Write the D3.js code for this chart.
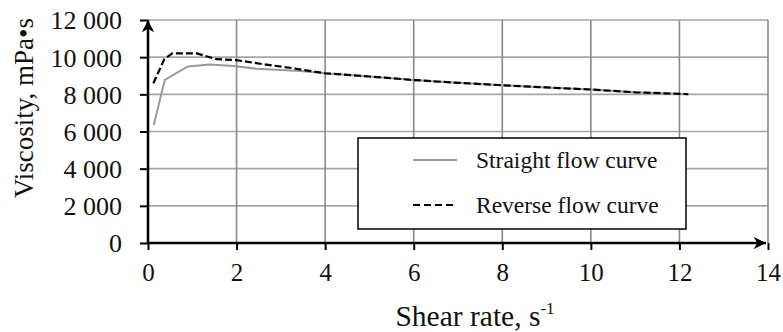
<!DOCTYPE html>
<html>
<head>
<meta charset="utf-8">
<script src="https://cdn.jsdelivr.net/npm/d3@7"></script>
<style>
  body { margin: 0; background: #fff; }
</style>
</head>
<body>
<div id="chart"></div>
<script>
// data
const straightRate = [0.13, 0.38, 0.9, 1.4, 1.93, 2.45, 2.9, 3.45, 4.0, 5.0, 6.0, 7.0, 8.0, 9.0, 10.0, 11.0, 12.2];
const straightVisc = [6350, 8780, 9500, 9600, 9530, 9380, 9320, 9250, 9130, 8960, 8770, 8620, 8490, 8370, 8260, 8110, 8010];
const reverseRate = [0.12, 0.37, 0.55, 1.1, 1.55, 2.0, 2.6, 3.2, 4.0, 5.0, 6.0, 7.0, 8.0, 9.0, 10.0, 11.0, 12.2];
const reverseVisc = [8590, 9900, 10200, 10200, 9890, 9840, 9620, 9430, 9130, 8960, 8770, 8620, 8490, 8370, 8260, 8110, 8010];
const xTicks = [0, 2, 4, 6, 8, 10, 12, 14];
const yTicks = [0, 2000, 4000, 6000, 8000, 10000, 12000];
const seriesNames = ['Straight flow curve', 'Reverse flow curve'];

const FONT = '"Liberation Serif", "Times New Roman", serif';
const width = 783, height = 332;
const x = d3.scaleLinear().domain([0, 14]).range([148, 768]);
const y = d3.scaleLinear().domain([0, 12000]).range([243, 20]);
const fmt = v => d3.format(',')(v).replace(',', ' ');

const svg = d3.select('#chart').append('svg')
  .attr('width', width)
  .attr('height', height)
  .style('font-family', FONT);

svg.append('defs').append('marker')
  .attr('id', 'arrow')
  .attr('viewBox', '0 0 10 10')
  .attr('refX', 10).attr('refY', 5)
  .attr('markerWidth', 5).attr('markerHeight', 5)
  .attr('markerUnits', 'strokeWidth')
  .attr('orient', 'auto')
  .append('path')
    .attr('d', 'M0,0 L10,5 L0,10 L3,5 Z')
    .attr('fill', '#000');

// grid
const grid = svg.append('g');
grid.selectAll('line.h').data(yTicks.slice(1)).join('line')
  .attr('x1', x(0)).attr('x2', x(14))
  .attr('y1', d => y(d)).attr('y2', d => y(d))
  .attr('stroke', '#a6a6a6').attr('stroke-width', 1.6);
grid.selectAll('line.v').data(xTicks.slice(1)).join('line')
  .attr('x1', d => x(d)).attr('x2', d => x(d))
  .attr('y1', y(0)).attr('y2', y(12000))
  .attr('stroke', '#8a8a8a').attr('stroke-width', 1.6);

// axes
const xAxis = svg.append('g')
  .attr('transform', `translate(0,${y(0)})`)
  .call(d3.axisBottom(x).tickValues(xTicks).tickSize(7).tickPadding(13));
const yAxis = svg.append('g')
  .attr('transform', `translate(${x(0)},0)`)
  .call(d3.axisLeft(y).tickValues(yTicks).tickSize(8).tickPadding(18).tickFormat(fmt));

[xAxis, yAxis].forEach(ax => {
  ax.attr('font-family', null).attr('font-size', null);
  ax.select('.domain').remove();
  ax.selectAll('.tick line').attr('stroke', '#000').attr('stroke-width', 2);
  ax.selectAll('text').attr('fill', '#111').style('font-family', FONT);
});
xAxis.selectAll('text').style('font-size', '25px');
yAxis.selectAll('text').style('font-size', '26px').attr('dy', '0.34em');

svg.append('line')
  .attr('x1', x(0) - 1).attr('x2', x(14) - 2)
  .attr('y1', y(0)).attr('y2', y(0))
  .attr('stroke', '#000').attr('stroke-width', 2.5)
  .attr('marker-end', 'url(#arrow)');
svg.append('line')
  .attr('x1', x(0)).attr('x2', x(0))
  .attr('y1', y(0) + 1).attr('y2', y(12000))
  .attr('stroke', '#000').attr('stroke-width', 2.5)
  .attr('marker-end', 'url(#arrow)');

// curves
const line = d3.line().x(d => x(d[0])).y(d => y(d[1]));
const straight = d3.zip(straightRate, straightVisc);
const reverse = d3.zip(reverseRate, reverseVisc);

svg.append('path').datum(straight)
  .attr('d', line)
  .attr('fill', 'none')
  .attr('stroke', '#999')
  .attr('stroke-width', 2);
svg.append('path').datum(reverse)
  .attr('d', line)
  .attr('fill', 'none')
  .attr('stroke', '#000')
  .attr('stroke-width', 2.2)
  .attr('stroke-dasharray', '7,3');

// legend
const legend = svg.append('g');
legend.append('rect')
  .attr('x', 358).attr('y', 138).attr('width', 328).attr('height', 91)
  .attr('fill', '#fff').attr('stroke', '#000').attr('stroke-width', 1.5);
const legendRows = [
  {name: seriesNames[0], stroke: '#999', dash: null, w: 2, yy: 160},
  {name: seriesNames[1], stroke: '#000', dash: '7,4', w: 2, yy: 205}
];
legendRows.forEach(r => {
  legend.append('line')
    .attr('x1', 413).attr('x2', 457)
    .attr('y1', r.yy).attr('y2', r.yy)
    .attr('stroke', r.stroke).attr('stroke-width', r.w)
    .attr('stroke-dasharray', r.dash);
  legend.append('text')
    .attr('x', 476).attr('y', r.yy + 8)
    .style('font-family', FONT)
    .style('font-size', '23.5px')
    .attr('fill', '#111')
    .text(r.name);
});

// axis titles
const xTitle = svg.append('text')
  .attr('x', 475).attr('y', 326)
  .attr('text-anchor', 'middle')
  .attr('fill', '#111')
  .style('font-family', FONT)
  .style('font-size', '29.5px');
xTitle.append('tspan').text('Shear rate, s');
xTitle.append('tspan').attr('dy', -12).style('font-size', '17px').text('-1');

svg.append('text')
  .attr('transform', 'translate(33,108) rotate(-90)')
  .attr('text-anchor', 'middle')
  .attr('fill', '#111')
  .style('font-family', FONT)
  .style('font-size', '27px')
  .text('Viscosity, mPa\u2022s');
</script>
</body>
</html>
